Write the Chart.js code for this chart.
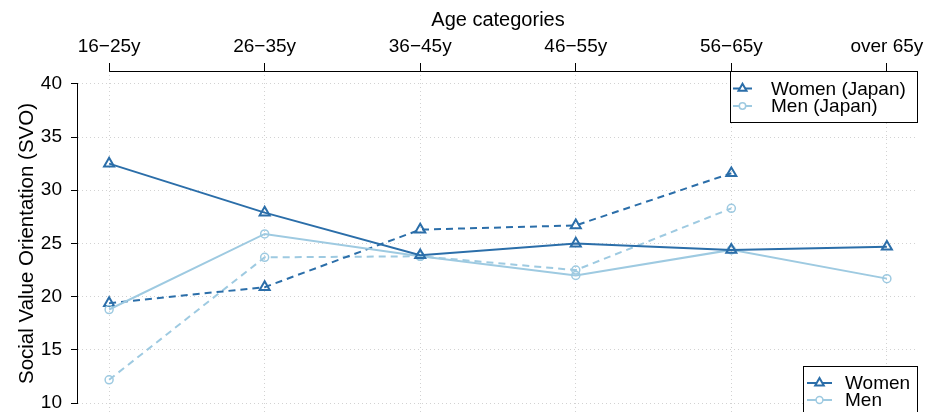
<!DOCTYPE html>
<html><head><meta charset="utf-8">
<script src="https://cdn.jsdelivr.net/npm/chart.js@4/dist/chart.umd.min.js"></script>
<style>
html,body{margin:0;padding:0;background:#fff;overflow:hidden;}
#wrap{width:932px;height:412px;overflow:hidden;position:relative;background:#fff;}
canvas{display:block;}
</style></head><body>
<div id="wrap"><canvas id="c" width="932" height="416"></canvas></div>
<script>
const categories = ['16\u221225y','26\u221235y','36\u221245y','46\u221255y','56\u221265y','over 65y'];
const women      = [32.5, 27.9, 23.9, 25.0, 24.4, 24.7];
const men        = [18.8, 25.9, 23.8, 22.0, 24.4, 21.7];
const womenJapan = [19.4, 20.9, 26.3, 26.7, 31.6, null];
const menJapan   = [12.2, 23.7, 23.8, 22.5, 28.3, null];
const yTicks     = [10, 15, 20, 25, 30, 35, 40];

const DARK = '#2b6ea9';
const LIGHT = '#9ecae1';
const FONT = "'Liberation Sans', Arial, Helvetica, sans-serif";

function pts(arr){ return arr.map((v,i)=>({x:i,y:v})).filter(p=>p.y!==null); }

const tri = {pointStyle:'triangle', pointRadius:5.8, pointBorderWidth:2, pointHoverRadius:5.8};
const cir = {pointStyle:'circle', pointRadius:4, pointBorderWidth:1.5, pointHoverRadius:4};

const datasets = [
  Object.assign({label:'Women', data:pts(women), borderColor:DARK, borderWidth:2, pointBorderColor:DARK, pointBackgroundColor:'rgba(255,255,255,0)', borderDash:[]}, tri),
  Object.assign({label:'Men', data:pts(men), borderColor:LIGHT, borderWidth:2, pointBorderColor:LIGHT, pointBackgroundColor:'rgba(255,255,255,0)', borderDash:[]}, cir),
  Object.assign({label:'Women (Japan)', data:pts(womenJapan), borderColor:DARK, borderWidth:2, pointBorderColor:DARK, pointBackgroundColor:'rgba(255,255,255,0)', borderDash:[7,5]}, tri),
  Object.assign({label:'Men (Japan)', data:pts(menJapan), borderColor:LIGHT, borderWidth:2, pointBorderColor:LIGHT, pointBackgroundColor:'rgba(255,255,255,0)', borderDash:[7,5]}, cir)
];

// R-style axis lines spanning first to last tick
const rAxes = {
  id:'rAxes',
  afterDraw(chart){
    const ctx = chart.ctx, xs = chart.scales.x, ys = chart.scales.y, ca = chart.chartArea;
    ctx.save();
    ctx.strokeStyle = '#000'; ctx.lineWidth = 1; ctx.setLineDash([]);
    const xf = xs.getPixelForValue(0), xl = xs.getPixelForValue(categories.length-1);
    ctx.beginPath(); ctx.moveTo(xf, ca.top+0.5); ctx.lineTo(xl, ca.top+0.5); ctx.stroke();
    const yt = ys.getPixelForValue(yTicks[yTicks.length-1]), yb = ys.getPixelForValue(yTicks[0]);
    ctx.beginPath(); ctx.moveTo(ca.left-0.5, yt); ctx.lineTo(ca.left-0.5, yb); ctx.stroke();
    ctx.restore();
  }
};

// R-style boxed legends
const rLegends = {
  id:'rLegends',
  afterDraw(chart, args, opts){
    const ctx = chart.ctx, ca = chart.chartArea;
    opts.boxes.forEach(b=>{
      const left = b.left, right = ca.right;
      const top = b.anchor==='top' ? ca.top : b.top;
      const bottom = b.anchor==='top' ? ca.top + b.height : ca.bottom;
      ctx.save();
      ctx.fillStyle = '#fff';
      ctx.fillRect(left, top, right-left, bottom-top);
      ctx.strokeStyle = '#000'; ctx.lineWidth = 1; ctx.setLineDash([]);
      ctx.strokeRect(Math.round(left)+0.5, Math.round(top)+0.5, Math.round(right-left)-1, Math.round(bottom-top));
      b.items.forEach((di, k)=>{
        const ds = chart.data.datasets[di];
        const y = top + b.row0 + k*b.rowH;
        ctx.strokeStyle = ds.borderColor; ctx.lineWidth = ds.borderWidth;
        ctx.setLineDash(ds.borderDash || []);
        ctx.beginPath(); ctx.moveTo(left + b.seg0, y); ctx.lineTo(left + b.seg1, y); ctx.stroke();
        ctx.setLineDash([]);
        ctx.fillStyle = '#fff';
        ctx.strokeStyle = ds.pointBorderColor;
        ctx.lineWidth = ds.pointBorderWidth;
        Chart.helpers.drawPoint(ctx, {pointStyle:ds.pointStyle, rotation:0, radius:ds.pointRadius*b.markScale, borderWidth:ds.pointBorderWidth}, left + (b.seg0+b.seg1)/2, y);
        ctx.fillStyle = '#000';
        ctx.font = b.fontSize + 'px ' + FONT;
        ctx.textBaseline = 'middle'; ctx.textAlign = 'left';
        ctx.fillText(ds.label, left + b.textX, y + 1);
      });
      ctx.restore();
    });
  }
};

new Chart(document.getElementById('c'), {
  type:'line',
  data:{datasets},
  plugins:[rAxes, rLegends],
  options:{
    responsive:false, animation:false, devicePixelRatio:1,
    layout:{autoPadding:false, padding:{left:0,right:14,top:0,bottom:0}},
    plugins:{
      legend:{display:false}, tooltip:{enabled:false},
      rLegends:{boxes:[
        {anchor:'top', left:730, height:51, row0:17.5, rowH:17.5, seg0:3, seg1:22, textX:41, fontSize:19, markScale:0.8, items:[2,3]},
        {anchor:'bottom', left:803, top:366, row0:17, rowH:17, seg0:4, seg1:29, textX:42, fontSize:19, markScale:0.85, items:[0,1]}
      ]}
    },
    elements:{line:{tension:0}},
    scales:{
      x:{
        type:'linear', position:'top', min:-0.2, max:5.2,
        afterBuildTicks:s=>{ s.ticks = categories.map((_,i)=>({value:i})); },
        afterFit:s=>{ s.height = 71; s.paddingLeft = 0; s.paddingRight = 0; },
        ticks:{callback:v=>categories[v], color:'#000', font:{family:FONT,size:19}, padding:5, autoSkip:false, maxRotation:0, minRotation:0},
        grid:{color:'#d2d2d2', lineWidth:1, drawTicks:true, tickLength:8, tickColor:'#000', tickWidth:1},
        border:{display:false, dash:[1,3]},
        title:{display:true, text:'Age categories', color:'#000', font:{family:FONT,size:20}, padding:{top:8,bottom:0}}
      },
      y:{
        type:'linear', position:'left', min:8.8, max:41.2,
        afterBuildTicks:s=>{ s.ticks = yTicks.map(v=>({value:v})); },
        afterFit:s=>{ s.width = 78; s.paddingTop = 0; s.paddingBottom = 0; },
        ticks:{callback:v=>String(v), color:'#000', font:{family:FONT,size:19}, padding:9},
        grid:{color:'#d2d2d2', lineWidth:1, drawTicks:true, tickLength:7, tickColor:'#000', tickWidth:1},
        border:{display:false, dash:[1,3]},
        title:{display:true, text:'Social Value Orientation (SVO)', color:'#000', font:{family:FONT,size:20.5}, padding:{top:15,bottom:0}}
      }
    }
  }
});
</script>
</body></html>
